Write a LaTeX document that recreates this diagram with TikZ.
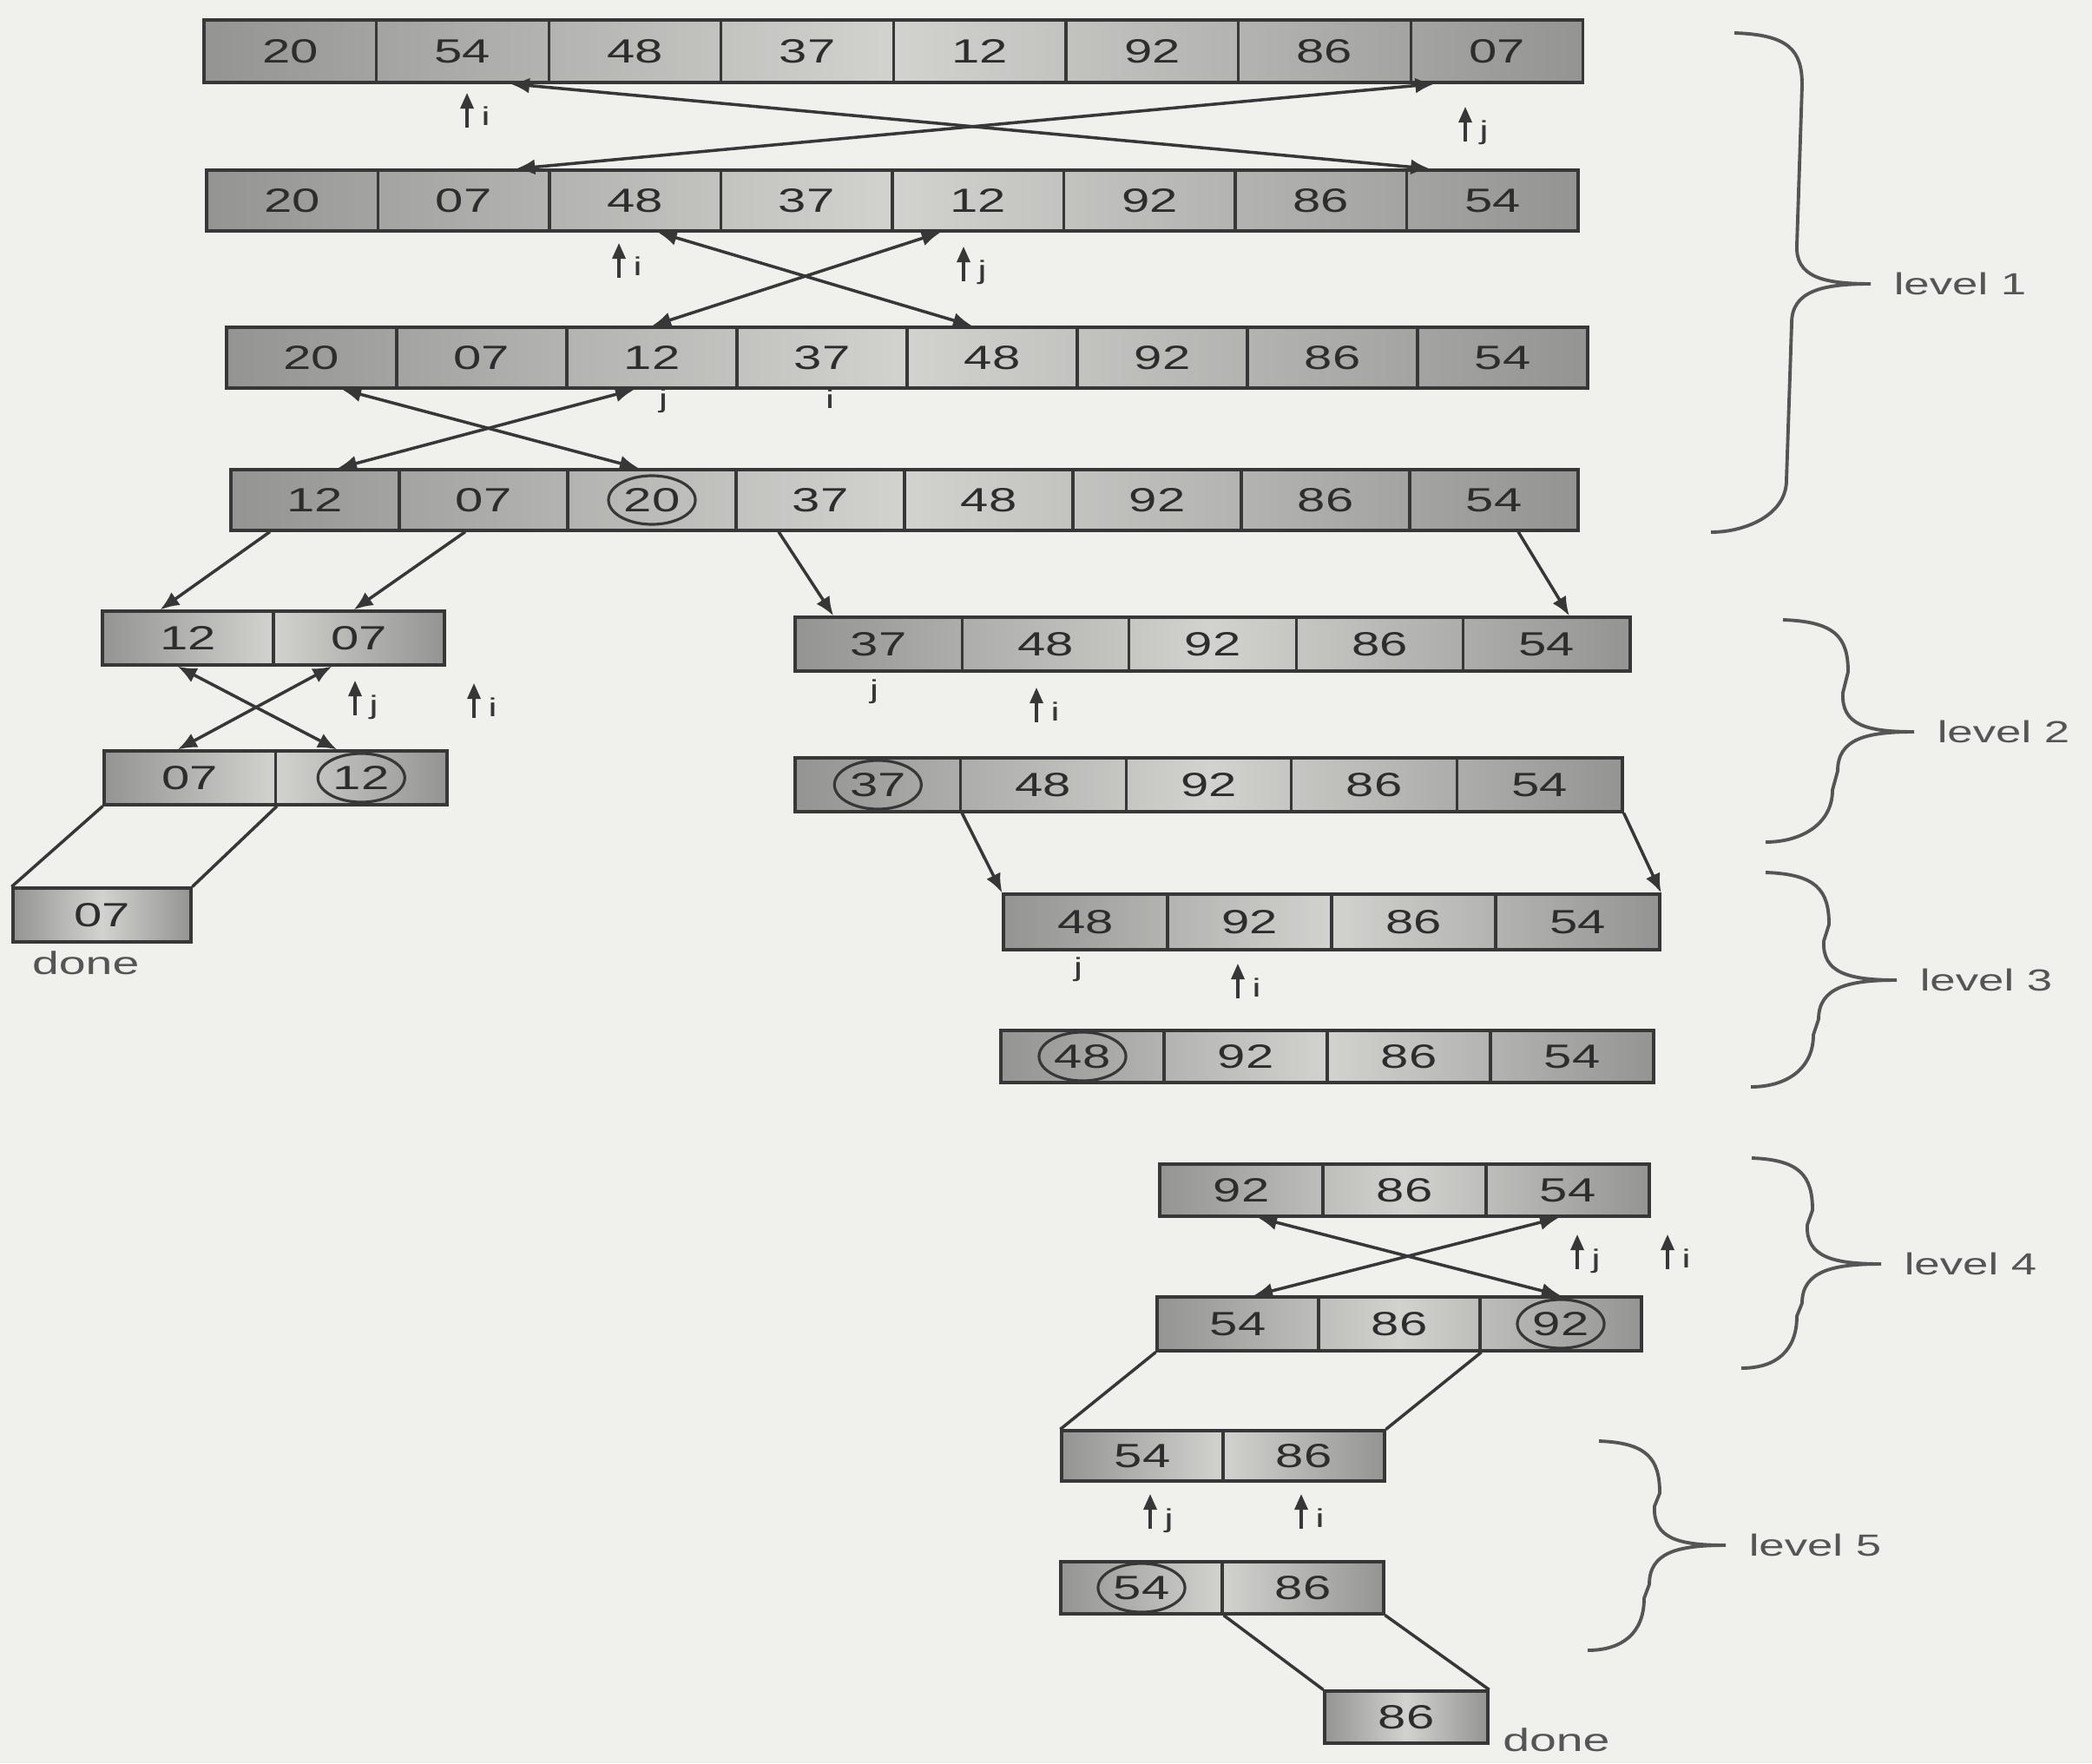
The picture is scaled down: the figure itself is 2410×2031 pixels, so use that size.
\documentclass[tikz,border=0pt]{standalone}
\usepackage{fontspec}
\usepackage{tikz}
\usetikzlibrary{arrows.meta,positioning,calc,shapes.geometric}
\newfontfamily\cellfont[FakeStretch=1.5]{Liberation Sans}
\definecolor{paper}{RGB}{240,240,237}
\definecolor{inkcol}{RGB}{55,55,55}
\definecolor{numcol}{RGB}{45,45,45}
\definecolor{cellend}{RGB}{148,148,146}
\definecolor{cellmid}{RGB}{210,210,207}
\definecolor{bracecol}{RGB}{85,85,85}
\tikzset{
  cell/.style={draw=inkcol, line width=0.9pt, inner sep=0pt, text=numcol,
    font=\cellfont\fontsize{11}{13}\selectfont},
  rowshade/.style={left color=cellend, right color=cellend, middle color=cellmid},
  pivot/.style={draw=inkcol, line width=0.9pt, ellipse, minimum width=1cm,
    minimum height=0.56cm, inner sep=0pt},
  swapln/.style={{Latex[length=2.2mm,width=1.8mm]}-{Latex[length=2.2mm,width=1.8mm]},
    line width=1pt, inkcol},
  splitln/.style={-{Latex[length=2.2mm,width=1.8mm]}, line width=1pt, inkcol},
  link/.style={line width=1pt, inkcol},
  ptrln/.style={-{Triangle[length=1.8mm,width=1.5mm]}, line width=0.9pt, inkcol},
  ptrtext/.style={text=inkcol, font=\cellfont\fontsize{8.5}{10}\selectfont, inner sep=0pt},
  donetext/.style={text=bracecol, font=\cellfont\fontsize{10.5}{12}\selectfont, inner sep=0pt},
  braceln/.style={line width=1.1pt, bracecol},
  lvltext/.style={text=bracecol, font=\cellfont\fontsize{10}{12}\selectfont, inner sep=0pt},
}
% #1 name, #2 cells, #3 left x, #4 centre y, #5 cell width, #6 height, #7 values
\newcommand{\arr}[7]{%
  \shade[rowshade] (#3,#4-#6/2) rectangle (#3+#2*#5,#4+#6/2);
  \foreach \v [count=\k] in {#7}
    \node[cell, minimum width=#5*0.01cm, minimum height=#6*0.01cm]
      (#1c\k) at (#3+#5*\k-#5/2,#4) {\v};
}
% #1 name, #2 x, #3 tip y, #4 letter
\newcommand{\ptr}[4]{%
  \coordinate (#1) at (#2,#3+40);
  \draw[ptrln] (#1) -- ++(0,-40);
  \node[ptrtext, anchor=base west] (#1txt) at (#2+16,#3+38) {#4};
}
% #1 name, #2/#3 top end, #4 spine x, #5/#6 tip, #7/#8 bottom end, #9 label
\newcommand{\lvlbrace}[9]{%
  \draw[braceln] (#2,#3) .. controls (#4-15,#3+2) and (#4,#3+20) .. (#4,#3+60)
    -- (#4-6,#6-45) .. controls (#4-8,#6-8) and (#5-55,#6) .. (#5,#6)
    .. controls (#5-55,#6) and (#4-12,#6+8) .. (#4-12,#6+45)
    -- (#4-18,#8-60) .. controls (#4-18,#8-20) and (#7+40,#8) .. (#7,#8);
  \coordinate (#1) at (#5,#6);
  \node[lvltext, right=0.26cm of #1, anchor=west] (#1txt) {#9};
}

\begin{document}
\begin{tikzpicture}[x=0.01cm, y=-0.01cm]
  \useasboundingbox (0,0) rectangle (2410,2031);
  \fill[paper] (0,0) rectangle (2410,2031);

  % level 1
  \arr{r1}{8}{235}{59}{198.6}{72}{20,54,48,37,12,92,86,07}
  \arr{r2}{8}{238}{231}{197.5}{70}{20,07,48,37,12,92,86,54}
  \arr{r3}{8}{261}{412}{196}{70}{20,07,12,37,48,92,86,54}
  \arr{r4}{8}{266}{576}{194}{70}{12,07,20,37,48,92,86,54}
  \node[pivot] (piv1) at (r4c3) {};
  \draw[swapln] ([xshift=0.55cm]r1c2.south) -- ([xshift=-0.72cm]r2c8.north);
  \draw[swapln] ([xshift=-0.72cm]r1c8.south) -- ([xshift=0.6cm]r2c2.north);
  \draw[swapln] ([xshift=0.26cm]r2c3.south) -- ([xshift=-0.23cm]r3c5.north);
  \draw[swapln] ([xshift=-0.43cm]r2c5.south) -- (r3c3.north);
  \draw[swapln] ([xshift=0.35cm]r3c1.south) -- ([xshift=-0.15cm]r4c3.north);
  \draw[swapln] ([xshift=-0.2cm]r3c3.south) -- ([xshift=0.26cm]r4c1.north);
  \ptr{p1}{538}{107}{i}
  \ptr{p2}{1688}{123}{j}
  \ptr{p3}{713}{280}{i}
  \ptr{p4}{1110}{284}{j}
  \node[ptrtext] (lj1) at (764,462) {j};
  \node[ptrtext] (li1) at (956,460) {i};

  % level 2, left part
  \arr{l2a}{2}{118}{735}{197}{62}{12,07}
  \arr{l2b}{2}{120}{896}{197.5}{62}{07,12}
  \arr{d1}{1}{15}{1054}{205}{62}{07}
  \node[pivot] (piv2) at (l2bc2) {};
  \draw[splitln] ([xshift=-0.52cm]r4c1.south) -- ([xshift=-0.32cm]l2ac1.north);
  \draw[splitln] ([xshift=-0.21cm]r4c2.south) -- ([xshift=-0.06cm]l2ac2.north);
  \draw[swapln] ([xshift=-0.12cm]l2ac1.south) -- ([xshift=-0.28cm]l2bc2.north);
  \draw[swapln] ([xshift=-0.31cm]l2ac2.south) -- ([xshift=-0.14cm]l2bc1.north);
  \draw[link] (l2bc1.south west) -- (d1c1.north west);
  \draw[link] (l2bc1.south east) -- (d1c1.north east);
  \ptr{p5}{409}{784}{j}
  \ptr{p6}{546}{787}{i}
  \node[donetext, anchor=north west] (done1)
    at ([xshift=0.23cm,yshift=-0.08cm]d1c1.south west) {done};

  % level 2, right part
  \arr{r2a}{5}{916}{742}{192.4}{62}{37,48,92,86,54}
  \arr{r2b}{5}{916}{904}{190.6}{62}{37,48,92,86,54}
  \node[pivot] (piv3) at (r2bc1) {};
  \draw[splitln] ([xshift=-0.48cm]r4c4.south) -- ([xshift=-0.52cm]r2ac1.north);
  \draw[splitln] ([xshift=0.28cm]r4c8.south) -- ([xshift=0.26cm]r2ac5.north);
  \node[ptrtext] (lj2) at (1007,797) {j};
  \ptr{p7}{1194}{792}{i}

  % level 3
  \arr{l3a}{4}{1156}{1062}{189}{64}{48,92,86,54}
  \arr{l3b}{4}{1153}{1217}{188}{60}{48,92,86,54}
  \node[pivot] (piv4) at (l3bc1) {};
  \draw[splitln] (r2bc1.south east) -- (l3ac1.north west);
  \draw[splitln] (r2bc5.south east) -- (l3ac4.north east);
  \node[ptrtext] (lj3) at (1242,1117) {j};
  \ptr{p8}{1426}{1110}{i}

  % level 4
  \arr{l4a}{3}{1336}{1371}{188}{60}{92,86,54}
  \arr{l4b}{3}{1333}{1525}{186}{62}{54,86,92}
  \node[pivot] (piv5) at (l4bc3) {};
  \draw[swapln] ([xshift=0.19cm]l4ac1.south) -- (l4bc3.north);
  \draw[swapln] ([xshift=-0.1cm]l4ac3.south) -- ([xshift=0.18cm]l4bc1.north);
  \ptr{p9}{1817}{1422}{j}
  \ptr{p10}{1921}{1422}{i}

  % level 5
  \arr{l5a}{2}{1223}{1677}{186}{58}{54,86}
  \arr{l5b}{2}{1222}{1829}{186}{60}{54,86}
  \arr{d2}{1}{1526}{1978}{188}{60}{86}
  \node[pivot] (piv6) at (l5bc1) {};
  \draw[link] (l4bc1.south west) -- (l5ac1.north west);
  \draw[link] (l4bc2.south east) -- (l5ac2.north east);
  \draw[link] (l5bc1.south east) -- (d2c1.north west);
  \draw[link] (l5bc2.south east) -- (d2c1.north east);
  \ptr{p11}{1325}{1721}{j}
  \ptr{p12}{1499}{1721}{i}
  \node[donetext, anchor=north west] (done2)
    at ([xshift=0.15cm,yshift=0.2cm]d2c1.south east) {done};

  % braces with level names
  \lvlbrace{lv1}{1998}{38}{2076}{2155}{327}{1971}{613}{level 1}
  \lvlbrace{lv2}{2054}{714}{2129}{2205}{843}{2034}{970}{level 2}
  \lvlbrace{lv3}{2034}{1005}{2107}{2185}{1129}{2017}{1252}{level 3}
  \lvlbrace{lv4}{2018}{1334}{2088}{2167}{1456}{2006}{1576}{level 4}
  \lvlbrace{lv5}{1842}{1660}{1912}{1988}{1780}{1829}{1901}{level 5}
\end{tikzpicture}
\end{document}
